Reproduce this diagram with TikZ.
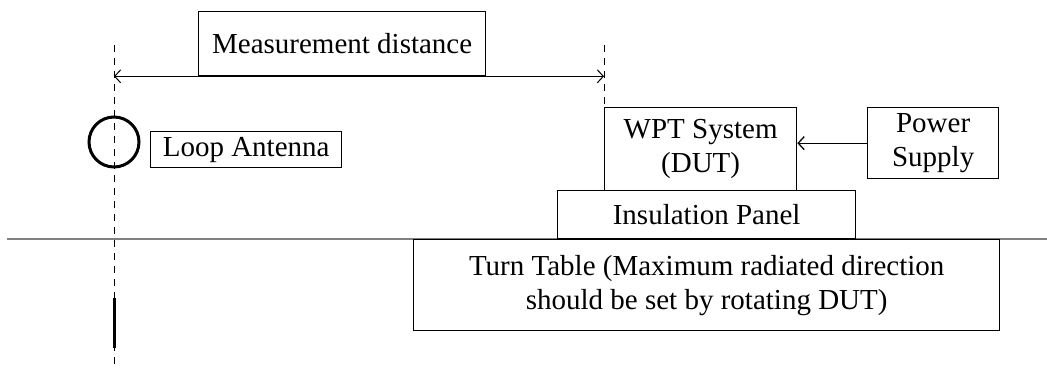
\documentclass[tikz,border=0pt]{standalone}
\usepackage{fontspec}
\setmainfont{Liberation Serif}
\usetikzlibrary{arrows.meta,positioning,calc}

\begin{document}
\begin{tikzpicture}[x=0.5pt, y=-0.5pt, >={Straight Barb[length=3pt,width=6.5pt]},
    every node/.style={font=\fontsize{14.5pt}{17pt}\selectfont},
    box/.style={draw, line width=0.65pt, inner sep=0pt, align=center, anchor=north west},
    axisline/.style={line width=0.5pt, dash pattern=on 3.5pt off 3pt}]
  \useasboundingbox (0,0) rectangle (1047,369);
  % ground level
  \draw[gray, line width=1pt] (7,239) -- (1047,239);
  % antenna side
  \coordinate (anttop) at (114,45);
  \coordinate (antbot) at (114,369);
  \draw[axisline] (anttop) -- (antbot);
  \node[draw, circle, line width=1.5pt, minimum size=25pt, inner sep=0pt] (coil) at (114,142) {};
  \node[box, minimum width=95.5pt, minimum height=18pt] (loop) at (150,131) {Loop Antenna};
  \coordinate (rodtop) at (114,298);
  \coordinate (rodbot) at (114,348);
  \draw[line width=1.5pt] (rodtop) -- (rodbot);
  % DUT stack
  \node[box, minimum width=96pt, minimum height=41.5pt] (wpt) at (604,107) {WPT System\\(DUT)};
  \node[box, minimum width=65.5pt, minimum height=35.5pt] (power) at (867,107) {Power\\Supply};
  \node[box, minimum width=149pt, minimum height=24pt] (panel) at (557,190) {Insulation Panel};
  \node[box, minimum width=293pt, minimum height=45.5pt] (table) at (413,239)
    {Turn Table (Maximum radiated direction\\should be set by rotating DUT)};
  \draw[->, line width=0.65pt] (power.west) -- (power.west -| wpt.east);
  % distance
  \node[box, minimum width=143.5pt, minimum height=32pt] (dist) at (198,11) {Measurement distance};
  \coordinate (duttop) at (wpt.north west |- anttop);
  \draw[axisline] (duttop) -- (wpt.north west);
  \draw[<->, line width=0.5pt] (anttop |- dist.south) -- (duttop |- dist.south);
\end{tikzpicture}
\end{document}
